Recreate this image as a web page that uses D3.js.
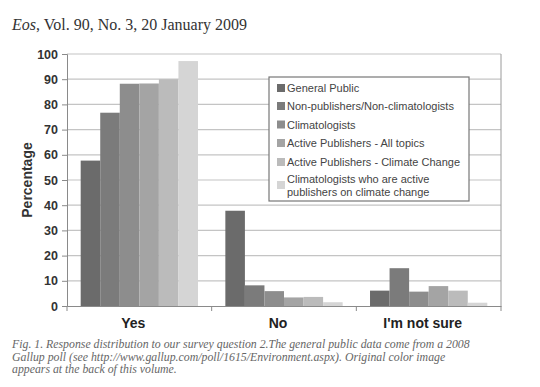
<!DOCTYPE html>
<html>
<head>
<meta charset="utf-8">
<script src="https://cdn.jsdelivr.net/npm/d3@7"></script>
<style>
  body { margin: 0; background: #fff; }
  svg { display: block; }
</style>
</head>
<body>
<script>
// survey answers and groups
const answers = ['Yes', 'No', "I'm not sure"];
const groups = [
    'General Public',
    'Non-publishers/Non-climatologists',
    'Climatologists',
    'Active Publishers - All topics',
    'Active Publishers - Climate Change',
    'Climatologists who are active publishers on climate change'
];
const yesValues = [57.7, 76.7, 88.2, 88.3, 90, 97.2];
const noValues = [37.8, 8.2, 5.9, 3.4, 3.6, 1.5];
const notSureValues = [6.1, 15, 5.7, 7.9, 6.1, 1.3];
const yTicks = [0, 10, 20, 30, 40, 50, 60, 70, 80, 90, 100];
const greys = ['#6b6b6b', '#7b7b7b', '#8d8d8d', '#a4a4a4', '#bbbbbb', '#d5d5d5'];

const values = [yesValues, noValues, notSureValues];

const svg = d3.select('body')
    .append('svg')
    .attr('width', 540)
    .attr('height', 387);

svg.append('text')
    .attr('x', 12)
    .attr('y', 30)
    .style('font-family', 'Liberation Serif, serif')
    .style('font-size', '16px')
    .attr('fill', '#333')
    .html('<tspan font-style="italic">Eos</tspan>, Vol. 90, No. 3, 20 January 2009');

const plotL = 67, plotR = 501, plotT = 54, plotB = 306;

const x = d3.scaleBand()
    .domain(answers)
    .range([plotL, plotR]);

const xInner = d3.scaleBand()
    .domain(groups)
    .range([0, x.bandwidth()])
    .paddingOuter(0.7);

const y = d3.scaleLinear()
    .domain([0, 100])
    .range([plotB, plotT]);

// grid
svg.append('g')
    .selectAll('line')
    .data(yTicks.slice(1))
    .enter()
    .append('line')
    .attr('x1', plotL)
    .attr('x2', plotR)
    .attr('y1', d => y(d))
    .attr('y2', d => y(d))
    .attr('stroke', '#c4c4c4')
    .attr('stroke-width', 1.2);

svg.append('line')
    .attr('x1', plotR).attr('x2', plotR)
    .attr('y1', plotT).attr('y2', plotB)
    .attr('stroke', '#9a9a9a');

// bars
svg.append('g')
    .selectAll('g')
    .data(answers)
    .enter()
    .append('g')
    .attr('transform', d => `translate(${x(d)},0)`)
    .selectAll('rect')
    .data((d, i) => values[i].map((v, k) => ({ group: groups[k], value: v, k: k })))
    .enter()
    .append('rect')
    .attr('x', d => xInner(d.group))
    .attr('width', xInner.bandwidth())
    .attr('y', d => y(d.value))
    .attr('height', d => y(0) - y(d.value))
    .attr('fill', d => greys[d.k]);

// y axis
const yAxis = svg.append('g')
    .attr('transform', `translate(${plotL},0)`)
    .call(d3.axisLeft(y).tickValues(yTicks).tickSize(5).tickPadding(4));
yAxis.select('.domain').attr('stroke', '#8a8a8a');
yAxis.selectAll('.tick line').attr('stroke', '#8a8a8a');
yAxis.selectAll('text')
    .style('font-family', 'Liberation Sans, Arial, sans-serif')
    .style('font-size', '12.5px')
    .style('font-weight', 'bold')
    .attr('fill', '#333');

// x axis
const xAxis = svg.append('g')
    .attr('transform', `translate(0,${plotB})`)
    .call(d3.axisBottom(x).tickSize(0).tickPadding(12));
xAxis.select('.domain').attr('stroke', '#8a8a8a');
xAxis.selectAll('text')
    .attr('dx', -6)
    .style('font-family', 'Liberation Sans, Arial, sans-serif')
    .style('font-size', '14px')
    .style('font-weight', 'bold')
    .attr('fill', '#222');

svg.append('g')
    .selectAll('line')
    .data(answers.concat(['end']))
    .enter()
    .append('line')
    .attr('x1', (d, i) => i < answers.length ? x(d) : plotR)
    .attr('x2', (d, i) => i < answers.length ? x(d) : plotR)
    .attr('y1', plotB)
    .attr('y2', plotB + 5)
    .attr('stroke', '#8a8a8a');

svg.append('text')
    .attr('transform', `translate(32,${(plotT + plotB) / 2}) rotate(-90)`)
    .attr('text-anchor', 'middle')
    .text('Percentage')
    .style('font-family', 'Liberation Sans, Arial, sans-serif')
    .style('font-size', '14px')
    .style('font-weight', 'bold')
    .attr('fill', '#333');

// legend
const legend = svg.append('g').attr('transform', 'translate(269,77)');
legend.append('rect')
    .attr('width', 200)
    .attr('height', 124)
    .attr('fill', '#fff')
    .attr('stroke', '#777')
    .attr('stroke-width', 1.2);

const rowY = [11, 29, 47.5, 66, 85, 108];
const item = legend.selectAll('g.item')
    .data(groups)
    .enter()
    .append('g')
    .attr('class', 'item')
    .attr('transform', (d, i) => `translate(0,${rowY[i]})`);

item.append('rect')
    .attr('x', 8)
    .attr('y', -4)
    .attr('width', 8)
    .attr('height', 8)
    .attr('fill', (d, i) => greys[i]);

item.append('text')
    .attr('x', 18)
    .attr('y', 4)
    .style('font-family', 'Liberation Sans, Arial, sans-serif')
    .style('font-size', '11px')
    .attr('fill', '#444')
    .each(function (d, i) {
        const t = d3.select(this);
        if (i === 5) {
            t.append('tspan').attr('x', 18).attr('dy', -6).text('Climatologists who are active');
            t.append('tspan').attr('x', 18).attr('dy', 13).text('publishers on climate change');
        } else {
            t.text(d);
        }
    });

// caption
const caption = [
    'Fig. 1. Response distribution to our survey question 2.The general public data come from a 2008',
    'Gallup poll (see http://www.gallup.com/poll/1615/Environment.aspx). Original color image',
    'appears at the back of this volume.'
];
svg.append('g')
    .selectAll('text')
    .data(caption)
    .enter()
    .append('text')
    .attr('x', 12)
    .attr('y', (d, i) => 348 + i * 12.5)
    .text(d => d)
    .style('font-family', 'Liberation Serif, serif')
    .style('font-style', 'italic')
    .style('font-size', '11.8px')
    .attr('fill', '#666');
</script>
</body>
</html>
